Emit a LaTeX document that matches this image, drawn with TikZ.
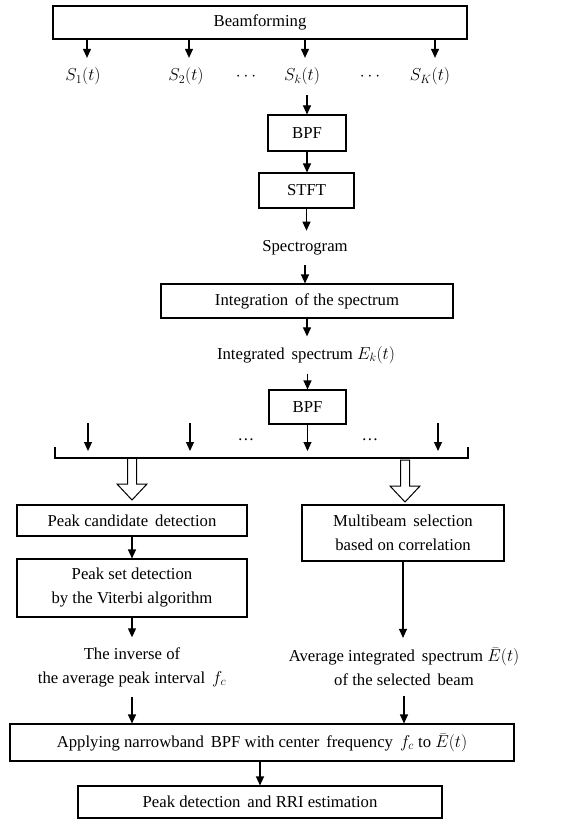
\documentclass[tikz,border=0pt]{standalone}
\usepackage{fontspec}
\setmainfont{Liberation Serif}
\usetikzlibrary{arrows.meta}
\tikzstyle{blk}=[shape=rectangle,
                 draw=black,
                 inner sep=0pt,
                 align=center]
\tikzstyle{txt}=[inner sep=0pt,
                 outer sep=10pt,
                 align=center]

\begin{document}
\begin{tikzpicture}[>={Triangle[length=9pt,width=8pt]},line width=1.1pt,
                    x=1pt,y=-1pt,font=\fontsize{16.7}{24}\selectfont]
\useasboundingbox (0,0) rectangle (578,821);

% beamforming and beam signals
\node[blk,minimum width=414,minimum height=33] (bf) at (260,22.5) {Beamforming};
\node[txt] (s1) at (83,76.5)  {$S_1(t)$};
\node[txt] (s2) at (186,76.5) {$S_2(t)$};
\node[txt] (d1) at (246,76.5) {$\cdots$};
\node[txt] (sk) at (302,76.5) {$S_k(t)$};
\node[txt] (d2) at (370,76.5) {$\cdots$};
\node[txt] (sK) at (430,76.5) {$S_K(t)$};
\foreach \s/\d in {s1/4,s2/3,sk/3,sK/5}
  \draw[->] ([xshift=\d pt]\s.north |- bf.south) -- ([xshift=\d pt]\s.north);

% processing of beam k
\node[blk,minimum width=78,minimum height=36] (bpf1) at (307,133) {BPF};
\node[blk,minimum width=95,minimum height=35] (stft) at (306.5,190.5) {STFT};
\node[txt] (spec) at (305,248) {Spectrogram};
\node[blk,minimum width=292,minimum height=34] (integ) at (307,301) {Integration\, of the spectrum};
\node[txt] (espec) at (306,355) {Integrated\, spectrum $E_k(t)$};
\node[blk,minimum width=77,minimum height=34] (bpf2) at (307.5,407) {BPF};

\draw[->] (bpf1.north |- sk.south) -- (bpf1.north);
\draw[->] (bpf1.south) -- (bpf1.south |- stft.north);
\draw[->] (stft.south) -- (stft.south |- spec.north);
\draw[->] (spec.south) -- (spec.south |- integ.north);
\draw[->] (integ.south) -- (integ.south |- espec.north);
\draw[->] (bpf2.north |- espec.south) -- (bpf2.north);

% all beams into the bracket
\foreach \i/\x in {1/88,2/190,4/438} {
  \coordinate (t\i) at (\x,423);
  \coordinate (b\i) at (\x,451);
  \draw[->] (t\i) -- (b\i);
}
\coordinate (b3) at (307.5,451);
\draw[->] (bpf2.south) -- (b3);
\node[txt] (d3) at (246,440) {\dots};
\node[txt] (d4) at (370,440) {\dots};
\coordinate (brL) at (55,447);
\coordinate (brR) at (468,447);
\draw (brL) |- (brR |- 0,458) -- (brR);

% hollow arrows
\coordinate (ha1) at (132,458);
\coordinate (ha2) at (405,460);
\foreach \h in {ha1,ha2}
  \draw[line width=1pt] (\h) ++(-4.5,0) -- ++(0,26) -- ++(-10.5,0) -- ++(15,16)
        -- ++(15,-16) -- ++(-10.5,0) -- ++(0,-26) -- cycle;

% left branch
\node[blk,minimum width=230,minimum height=31] (cand) at (132,520.5) {Peak candidate\, detection};
\node[blk,minimum width=230,minimum height=58] (vit) at (132,588) {Peak set detection\\by the Viterbi algorithm};
\node[txt] (inv) at (132,667) {The inverse of\\the average peak interval\, $f_c$};
\draw[->] (cand.south) -- (vit.north);
\draw[->] (vit.south) -- (inv.north);

% right branch
\node[blk,minimum width=202,minimum height=56] (multi) at (403,533) {Multibeam\, selection\\based on correlation};
\node[txt] (avg) at (404,667) {Average integrated\, spectrum $\bar{E}(t)$\\of the selected\, beam};
\draw[->] (multi.south) -- (multi.south |- avg.north);

% final stages
\node[blk,minimum width=504,minimum height=37] (apply) at (262,742.5)
  {Applying narrowband\, BPF with center\, frequency\, $f_c$ to $\bar{E}(t)$};
\node[blk,minimum width=364,minimum height=32] (rri) at (260,802) {Peak detection\, and RRI estimation};
\draw[->] (inv.south) -- (inv.south |- apply.north);
\draw[->] (avg.south) -- (avg.south |- apply.north);
\draw[->] (rri.north |- apply.south) -- (rri.north);
\end{tikzpicture}
\end{document}
